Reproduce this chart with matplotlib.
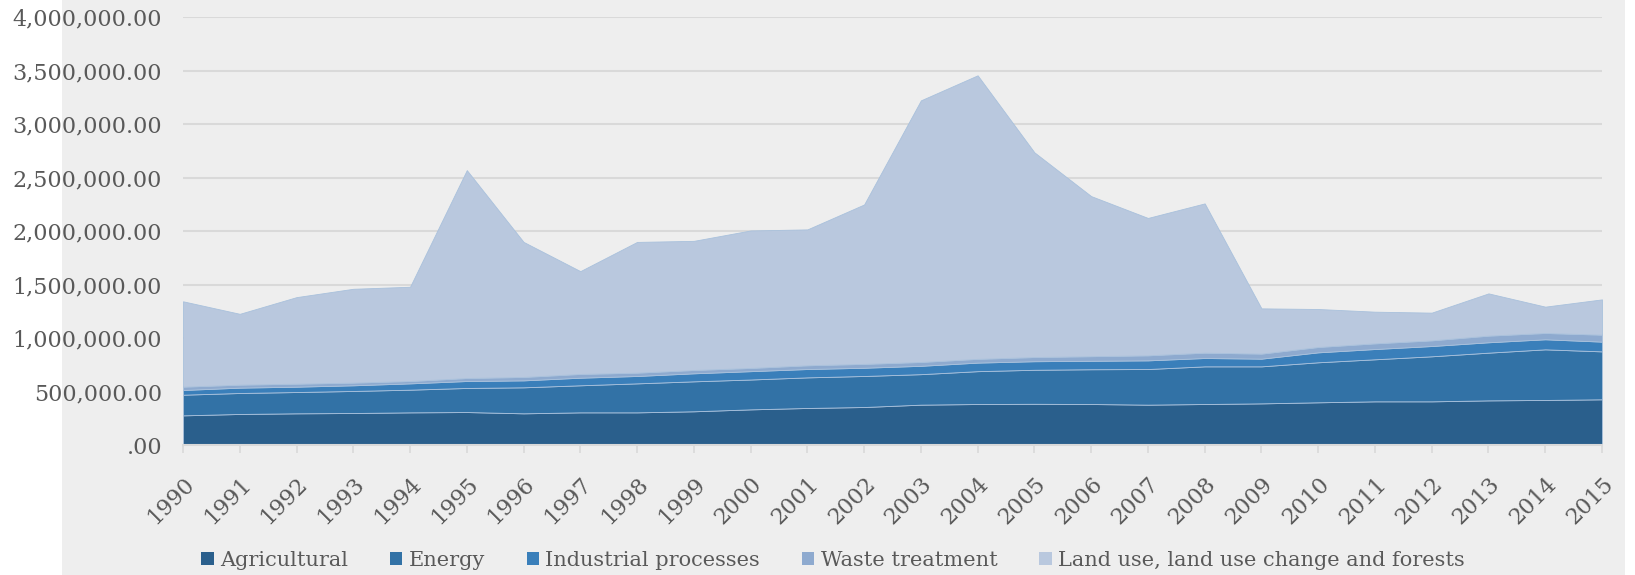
import matplotlib.pyplot as plt
from matplotlib.patches import Rectangle
from matplotlib.ticker import FuncFormatter
import numpy as np

years = list(range(1990, 2016))
series_names = ['Agricultural', 'Energy', 'Industrial processes', 'Waste treatment',
                'Land use, land use change and forests']

# values
agricultural = [277000, 290000, 296000, 299000, 305000, 308000, 296000, 305000, 305000, 315000,
                333000, 346000, 355000, 377000, 383000, 385000, 383000, 377000, 383000, 389000,
                399000, 408000, 408000, 417000, 421000, 427000]
energy = [193000, 196000, 199000, 206000, 212000, 225000, 243000, 253000, 271000, 280000,
          279000, 286000, 290000, 285000, 307000, 318000, 325000, 333000, 352000, 346000,
          374000, 393000, 421000, 446000, 473000, 448000]
industrial = [44000, 50000, 50000, 53000, 59000, 65000, 65000, 71000, 69000, 75000,
              78000, 78000, 77000, 78000, 80000, 80000, 79000, 81000, 78000, 72000,
              93000, 96000, 96000, 97000, 94000, 91000]
waste = [31000, 28000, 28000, 25000, 22000, 28000, 32000, 35000, 31000, 31000,
         30000, 35000, 36000, 36000, 35000, 39000, 43000, 47000, 50000, 47000,
         50000, 53000, 53000, 62000, 59000, 65000]
land_use = [798000, 662000, 809000, 877000, 881000, 1943000, 1262000, 961000, 1222000, 1207000,
            1285000, 1270000, 1490000, 2445000, 2650000, 1913000, 1496000, 1284000, 1395000, 423000,
            355000, 296000, 259000, 395000, 246000, 330000]

colors = ['#2a5f8c', '#3272a6', '#3a7fba', '#8eaacf', '#b9c8de']
text_col = '#595959'

plt.rcParams['font.family'] = ['DejaVu Serif']

fig = plt.figure(figsize=(16.35, 5.75), dpi=100)
fig.patch.set_facecolor('white')
# grey chart area box, kept behind the axes
fig.patches.append(Rectangle((62 / 1635, 0), (1625 - 62) / 1635, 1, transform=fig.transFigure,
                             facecolor='#eeeeee', edgecolor='none', zorder=-10))

ax = fig.add_axes([183 / 1635, 1 - 445 / 575, (1602 - 183) / 1635, (445 - 17) / 575])
ax.set_facecolor('none')

ax.stackplot(years, agricultural, energy, industrial, waste, land_use,
             colors=colors, labels=series_names, edgecolor='#a9c1dc', linewidth=0.6,
             zorder=2)

ax.set_xlim(1990, 2015)
ax.set_ylim(0, 4000000)
ax.set_yticks(np.arange(0, 4000001, 500000))


def fmt(v, pos):
    return '.00' if v == 0 else f'{v:,.2f}'


ax.yaxis.set_major_formatter(FuncFormatter(fmt))
ax.yaxis.grid(True, color='#d9d9d9', linewidth=1.5, zorder=1)
ax.set_axisbelow(True)

ax.set_xticks(years)
ax.set_xticklabels([str(y) for y in years], rotation=45, ha='right', rotation_mode='anchor')

for s in ['top', 'right', 'left']:
    ax.spines[s].set_visible(False)
ax.spines['bottom'].set_color('#d9d9d9')
ax.spines['bottom'].set_linewidth(1.5)

ax.tick_params(axis='y', length=0, pad=15, labelsize=16, labelcolor=text_col)
ax.tick_params(axis='x', length=6, width=1.2, color='#d9d9d9', pad=14, labelsize=16,
               labelcolor=text_col)

handles, labels = ax.get_legend_handles_labels()
leg = fig.legend(handles, labels, loc='center', bbox_to_anchor=(833 / 1635, 1 - 560 / 575),
                 ncol=5, frameon=False, fontsize=15, handlelength=0.6, handleheight=0.6,
                 handletextpad=0.3, columnspacing=2.0, labelcolor=text_col)
for h in leg.legend_handles:
    h.set_edgecolor('none')

fig.savefig('out.png', dpi=100)
